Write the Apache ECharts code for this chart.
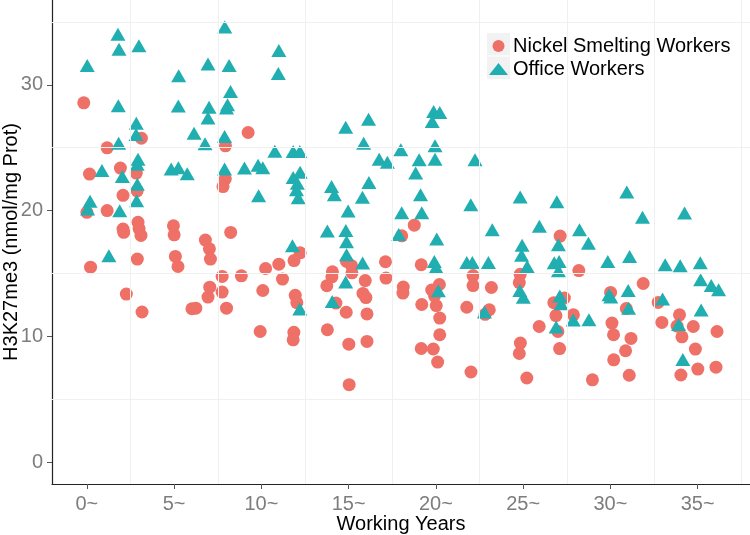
<!DOCTYPE html>
<html>
<head>
<meta charset="utf-8">
<script src="https://cdn.jsdelivr.net/npm/echarts@6/dist/echarts.min.js"></script>
<style>
html,body{margin:0;padding:0;background:#fff;}
#chart{width:750px;height:535px;}
</style>
</head>
<body>
<div id="chart"></div>
<script>
// ---- data (working years, H3K27me3) ----
var nickelPoints = [[-0.18,28.57],[1.16,24.99],[0.15,22.90],[1.92,23.38],[2.83,22.98],[3.12,25.76],[2.07,21.21],[2.88,21.57],[1.16,20.00],[0.00,19.86],[2.93,19.07],[2.99,18.57],[3.10,18.02],[2.07,18.53],[2.11,18.27],[4.96,18.79],[5.00,18.07],[6.79,17.65],[7.02,16.96],[8.24,18.26],[9.24,26.21],[7.94,25.15],[7.93,22.51],[7.80,21.91],[7.08,16.14],[0.21,15.50],[2.89,16.14],[5.07,16.35],[5.22,15.55],[2.26,13.36],[3.16,11.93],[6.02,12.19],[6.24,12.24],[7.75,14.76],[7.04,13.91],[6.94,13.12],[7.75,13.52],[8.00,12.24],[8.85,14.81],[10.24,15.39],[11.00,15.74],[11.21,14.55],[10.08,13.64],[9.93,10.38],[12.22,16.64],[11.87,16.02],[11.94,13.26],[12.03,12.67],[11.86,10.32],[11.82,9.72],[14.07,15.13],[14.04,14.73],[13.75,14.02],[14.27,12.64],[13.78,10.52],[14.86,11.91],[15.01,9.37],[15.03,6.15],[14.88,15.95],[15.17,15.61],[15.19,15.05],[15.95,14.43],[15.82,13.41],[15.99,13.08],[16.05,11.78],[16.05,9.59],[17.11,15.93],[17.14,14.63],[18.13,13.92],[18.11,13.44],[18.04,17.99],[18.76,18.84],[19.16,15.69],[19.19,12.53],[19.76,13.68],[19.92,13.22],[20.02,12.44],[20.20,14.12],[20.22,11.45],[20.22,10.12],[19.16,9.03],[19.85,8.99],[20.10,7.95],[22.13,14.83],[22.13,14.03],[23.18,13.88],[21.77,12.31],[23.06,12.11],[22.82,11.75],[22.01,7.16],[27.12,17.97],[28.19,15.23],[24.83,14.93],[24.78,14.27],[26.76,12.67],[27.36,13.04],[26.88,11.65],[27.88,11.71],[26.99,10.38],[25.92,10.78],[24.84,9.46],[24.78,8.63],[27.09,9.02],[25.21,6.68],[28.97,6.54],[30.01,13.49],[30.09,11.05],[30.18,10.12],[30.91,12.21],[31.18,9.83],[30.87,8.85],[30.19,8.13],[31.08,6.90],[31.88,14.20],[32.74,12.69],[32.95,11.10],[33.96,11.71],[33.82,10.81],[34.75,10.78],[34.10,9.96],[34.87,8.98],[36.11,10.38],[34.04,6.92],[35.01,7.39],[36.05,7.54]];

var officePoints = [[0.02,31.53],[1.78,34.03],[1.84,32.84],[2.98,33.12],[1.80,28.33],[2.83,26.95],[2.82,26.06],[1.82,25.36],[2.93,24.09],[2.88,23.68],[0.86,23.19],[2.03,22.71],[2.89,22.10],[0.18,20.74],[0.04,20.12],[1.88,19.98],[2.85,20.78],[1.26,16.40],[5.26,30.72],[5.24,28.31],[4.83,23.30],[5.24,23.40],[5.75,22.92],[6.94,31.65],[7.90,34.61],[8.15,31.53],[8.23,29.47],[7.00,28.21],[8.06,28.41],[8.00,28.15],[6.94,27.36],[6.14,26.16],[6.77,25.31],[7.89,25.89],[7.89,23.30],[9.03,23.38],[9.81,23.61],[10.08,23.40],[10.77,24.71],[11.00,32.73],[10.97,30.91],[9.84,21.17],[11.82,24.70],[12.20,24.70],[12.22,23.04],[11.82,22.64],[12.06,22.18],[12.01,21.65],[12.11,21.01],[11.78,17.20],[12.20,12.17],[14.02,21.91],[14.18,21.25],[13.78,18.37],[14.84,18.41],[14.88,17.52],[14.97,19.96],[15.79,21.05],[16.16,22.23],[14.88,16.48],[15.80,15.82],[14.83,14.31],[14.06,12.77],[14.83,26.62],[16.14,27.27],[15.86,25.36],[16.75,24.09],[17.22,23.85],[17.99,24.83],[19.04,24.04],[18.84,22.98],[19.12,21.25],[18.04,19.82],[19.19,19.82],[17.87,18.10],[19.95,25.15],[19.95,24.09],[19.87,27.88],[20.22,27.80],[19.79,27.08],[20.05,17.73],[19.91,15.95],[20.01,15.50],[20.14,13.62],[22.24,24.04],[22.00,20.46],[23.23,18.47],[21.77,15.87],[22.09,15.87],[23.01,15.87],[22.78,11.93],[24.83,21.07],[26.93,20.70],[30.94,21.47],[31.84,19.46],[34.25,19.80],[25.93,18.76],[28.23,18.47],[28.74,17.41],[24.94,17.24],[24.91,16.44],[25.23,15.55],[27.02,17.28],[26.78,15.85],[27.06,15.95],[27.02,15.21],[29.85,15.95],[31.10,16.35],[33.14,15.69],[34.00,15.61],[35.15,15.85],[35.17,14.49],[35.78,14.04],[36.20,13.70],[24.81,13.64],[25.01,13.10],[27.10,13.20],[27.18,12.59],[29.92,13.30],[30.02,13.12],[31.02,13.64],[31.04,12.24],[32.99,12.97],[35.20,12.09],[27.87,11.29],[28.77,11.31],[26.89,10.73],[33.91,10.94],[34.15,8.16]];

var seriesNames = ['Nickel Smelting Workers', 'Office Workers'];
var xTickValues = [0, 5, 10, 15, 20, 25, 30, 35];
var xTickLabels = ['0~', '5~', '10~', '15~', '20~', '25~', '30~', '35~'];
var yTickValues = [0, 10, 20, 30];
var xMinorGrid = [2.5, 7.5, 12.5, 17.5, 22.5, 27.5, 32.5, 37.5];
var yMinorGrid = [5, 15, 25, 35];

var chart = echarts.init(document.getElementById('chart'), null, {renderer: 'canvas'});
var FONT = 'Liberation Sans, Arial, sans-serif';

var gridLines = xMinorGrid.map(function (v) { return {xAxis: v}; })
  .concat(yMinorGrid.map(function (v) { return {yAxis: v}; }));

var option = {
  animation: false,
  backgroundColor: '#ffffff',
  textStyle: {fontFamily: FONT},
  grid: {left: 52, right: 0, top: 0, bottom: 51, containLabel: false, outerBoundsMode: 'none'},
  graphic: [
    {type: 'rect', z: 0, shape: {x: 487, y: 33, width: 23, height: 22.5}, style: {fill: '#f2f2f2'}},
    {type: 'rect', z: 0, shape: {x: 487, y: 56.5, width: 23, height: 22.5}, style: {fill: '#f2f2f2'}}
  ],
  legend: {
    data: seriesNames,
    orient: 'vertical',
    left: 489,
    top: 36,
    padding: 0,
    itemWidth: 19,
    itemHeight: 12,
    itemGap: 3,
    textStyle: {fontSize: 20, color: '#000', fontFamily: FONT}
  },
  xAxis: {
    type: 'value',
    min: -2.0,
    max: 38.0,
    name: 'Working Years',
    nameLocation: 'middle',
    nameGap: 30,
    nameMoveOverlap: false,
    nameTextStyle: {fontSize: 20, color: '#000', fontFamily: FONT},
    axisLine: {show: true, onZero: false, lineStyle: {color: '#222', width: 1.2}},
    axisTick: {show: true, length: 5, lineStyle: {color: '#555'}, customValues: xTickValues},
    axisLabel: {
      customValues: xTickValues,
      fontSize: 20, color: '#7d7d7d', margin: 10, fontFamily: FONT,
      formatter: function (v) { var i = xTickValues.indexOf(v); return i >= 0 ? xTickLabels[i] : ''; }
    },
    splitLine: {show: false}
  },
  yAxis: {
    type: 'value',
    min: -1.75,
    max: 36.75,
    name: 'H3K27me3 (nmol/mg Prot)',
    nameLocation: 'middle',
    nameGap: 31,
    nameMoveOverlap: false,
    nameTextStyle: {fontSize: 20, color: '#000', fontFamily: FONT},
    axisLine: {show: true, onZero: false, lineStyle: {color: '#222', width: 1.2}},
    axisTick: {show: true, length: 5, lineStyle: {color: '#555'}, customValues: yTickValues},
    axisLabel: {customValues: yTickValues, fontSize: 20, color: '#7d7d7d', margin: 9, fontFamily: FONT},
    splitLine: {show: false}
  },
  series: [
    {
      type: 'scatter', name: 'grid', data: [], silent: true, z: 1,
      markLine: {
        silent: true, symbol: 'none', label: {show: false},
        lineStyle: {type: 'solid', color: '#f0f0f0', width: 1},
        emphasis: {disabled: true},
        animation: false,
        data: gridLines
      }
    },
    {
      type: 'scatter', name: seriesNames[0], data: nickelPoints, z: 2,
      symbol: 'circle', symbolSize: 13,
      itemStyle: {color: '#EE7066', opacity: 1}
    },
    {
      type: 'scatter', name: seriesNames[1], data: officePoints, z: 3,
      symbol: 'triangle', symbolSize: [15, 13],
      itemStyle: {color: '#20AEB1', opacity: 1}
    }
  ]
};
chart.setOption(option);
</script>
</body>
</html>
